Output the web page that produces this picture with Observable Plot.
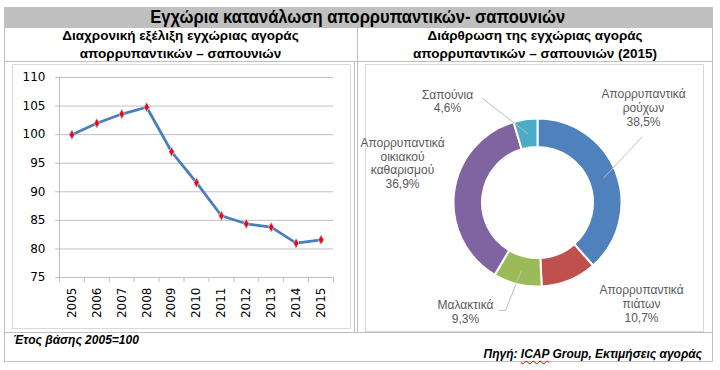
<!DOCTYPE html>
<html><head><meta charset="utf-8">
<script src="https://cdn.jsdelivr.net/npm/d3@7"></script>
<script src="https://cdn.jsdelivr.net/npm/@observablehq/plot@0.6"></script>
<style>
body{margin:0;background:#fff;}
#page{position:relative;width:720px;height:370px;overflow:hidden;font-family:"Liberation Sans",Arial,sans-serif;color:#000;}
.hl{position:absolute;height:1px;background:#bfbfbf;}
.vl{position:absolute;width:1px;background:#bfbfbf;}
.t{position:absolute;white-space:nowrap;}
.c{text-align:center;}
.frame{position:absolute;border:1px solid #d9d9d9;box-sizing:border-box;}
#title{left:4px;width:708px;top:7px;height:20px;line-height:20px;background:#c0c0c0;font-family:"Liberation Sans",Arial,sans-serif;font-weight:bold;font-size:19px;}
#titleText{display:inline-block;transform-origin:50% 50%;}
.sub{font-weight:bold;font-size:13.5px;line-height:18px;}
.foot{font-weight:bold;font-style:italic;font-size:12px;line-height:14px;}
.wavy{text-decoration:underline wavy #e00000;text-decoration-thickness:1px;text-underline-offset:2px;}
</style></head>
<body><div id="page">
<div id="title" class="t c"><span id="titleText">Εγχώρια κατανάλωση απορρυπαντικών- σαπουνιών</span></div>
<div class="hl" style="left:4px;width:709px;top:27px"></div>
<div class="hl" style="left:4px;width:709px;top:61px"></div>
<div class="hl" style="left:4px;width:709px;top:332px"></div>
<div class="hl" style="left:4px;width:709px;top:361px"></div>
<div class="vl" style="left:4px;top:27px;height:335px"></div>
<div class="vl" style="left:712px;top:7px;height:355px"></div>
<div class="vl" style="left:357px;top:27px;height:306px"></div>
<div class="vl" style="left:354px;top:61px;height:272px"></div>
<div class="t c sub" style="left:0px;width:361px;top:27px">Διαχρονική εξέλιξη εγχώριας αγοράς<br>απορρυπαντικών – σαπουνιών</div>
<div class="t c sub" style="left:357px;width:356px;top:27px">Διάρθρωση της εγχώριας αγοράς<br>απορρυπαντικών – σαπουνιών (2015)</div>
<div class="frame" style="left:12px;top:64px;width:339px;height:265px"></div>
<div class="frame" style="left:365px;top:64px;width:339px;height:268px"></div>
<div id="line" style="position:absolute;left:12px;top:64px;"></div>
<div id="donut" style="position:absolute;left:365px;top:64px;"></div>
<div class="t foot" style="left:13px;top:333px">Έτος βάσης 2005=100</div>
<div class="t foot" style="right:18px;top:347px">Πηγή: <span class="wavy">ICAP</span> Group, Εκτιμήσεις αγοράς</div>
</div>
<script>
// ---- data ----
const years = [2005, 2006, 2007, 2008, 2009, 2010, 2011, 2012, 2013, 2014, 2015];
const indexValues = [100, 102, 103.6, 104.8, 97, 91.6, 85.8, 84.4, 83.8, 81, 81.6];
const yTicks = [75, 80, 85, 90, 95, 100, 105, 110];

const segments = ["Απορρυπαντικά ρούχων", "Απορρυπαντικά πιάτων", "Μαλακτικά", "Απορρυπαντικά οικιακού καθαρισμού", "Σαπούνια"];
const shares = [38.5, 10.7, 9.3, 36.9, 4.6];
const segmentColors = ["#4f81bd", "#c0504d", "#9bbb59", "#8064a2", "#4bacc6"];

// condensed title (narrow face emulated)
const tt = document.getElementById("titleText");
tt.style.transform = `scaleX(${415 / tt.getBoundingClientRect().width})`;

// ---- line chart ----
const lineData = years.map((y, i) => ({year: y, value: indexValues[i]}));
const bandEdges = d3.range(years[0] - 0.5, years[years.length - 1] + 1, 1);

const lineChart = Plot.plot({
  width: 338, height: 264,
  marginTop: 13, marginBottom: 51, marginLeft: 47, marginRight: 17,
  x: {type: "linear", domain: [years[0] - 0.5, years[years.length - 1] + 0.5]},
  y: {domain: [75, 110]},
  style: {fontFamily: "'DejaVu Sans', sans-serif", fontSize: "12px", color: "#000", background: "transparent", overflow: "visible"},
  marks: [
    Plot.gridY(yTicks, {stroke: "#bfbfbf", strokeOpacity: 1}),
    Plot.ruleX([years[0] - 0.5], {stroke: "#bfbfbf"}),
    Plot.axisY(yTicks, {tickSize: 4, tickPadding: 10, stroke: "#bfbfbf", label: null}),
    Plot.axisX(bandEdges, {tickSize: 5, tickFormat: () => "", stroke: "#bfbfbf", label: null}),
    Plot.axisX(years, {tickSize: 0, tickPadding: 10, tickRotate: -90, tickFormat: "d", label: null}),
    Plot.line(lineData, {x: "year", y: "value", stroke: "#4a7ebb", strokeWidth: 2.75}),
    Plot.dot(lineData, {x: "year", y: "value", symbol: "diamond", r: 2.9, fill: "#ff0000", stroke: "#a9c4e8", strokeWidth: 1})
  ]
});
document.getElementById("line").append(lineChart);

// ---- donut chart ----
const pieData = segments.map((s, i) => ({name: s, share: shares[i], color: segmentColors[i]}));
const arcs = d3.pie().sort(null).value(d => d.share)(pieData);
const innerR = 55.5, outerR = 84, midR = 70;
// label anchor positions relative to the donut centre (layout)
const labelPos = [[105.5, -95.5], [103.5, 100.5], [-72.5, 108.5], [-135.5, -40], [-90.5, -102]];
const leaderStart = [[104.5, -66.5], null, [-32.5, 107.5], null, [-55.5, -104.5]];
const fmt = v => String(v).replace(".", ",") + "%";
const labels = pieData.map((d, i) => ({
  text: d.name.split(" ").join("\n") + "\n" + fmt(d.share),
  x: labelPos[i][0], y: labelPos[i][1]
}));
const leaders = [];
arcs.forEach((a, i) => {
  const s = leaderStart[i];
  if (!s) return;
  const ang = (a.startAngle + a.endAngle) / 2;
  leaders.push({x1: s[0], y1: s[1], x2: midR * Math.sin(ang), y2: -midR * Math.cos(ang)});
});
leaders.push({x1: -39.5, y1: 107.5, x2: -32.5, y2: 107.5});

function donutMark() {
  return (index, scales) => {
    const cx = scales.x(0), cy = scales.y(0);
    const k = scales.x(1) - scales.x(0);
    const arc = d3.arc().innerRadius(innerR * k).outerRadius(outerR * k);
    const g = d3.create("svg:g").attr("transform", `translate(${cx},${cy})`);
    g.selectAll("path").data(arcs).join("path")
      .attr("d", arc).attr("fill", d => d.data.color)
      .attr("stroke", "#fff").attr("stroke-width", 2);
    return g.node();
  };
}

const donut = Plot.plot({
  width: 338, height: 267, margin: 0,
  x: {type: "linear", domain: [-172.5, 165.5], range: [0, 338]},
  y: {type: "linear", domain: [-138.5, 128.5], range: [0, 267]},
  axis: null,
  style: {fontFamily: "'Liberation Sans', Arial, sans-serif", fontSize: "12px", background: "transparent", overflow: "visible"},
  marks: [
    donutMark(),
    Plot.link(leaders, {x1: "x1", y1: "y1", x2: "x2", y2: "y2", stroke: "#bfbfbf", strokeWidth: 1}),
    Plot.text(labels, {x: "x", y: "y", text: "text", fill: "#595959", lineHeight: 1.15, fontSize: 12})
  ]
});
document.getElementById("donut").append(donut);
</script>
</body></html>
